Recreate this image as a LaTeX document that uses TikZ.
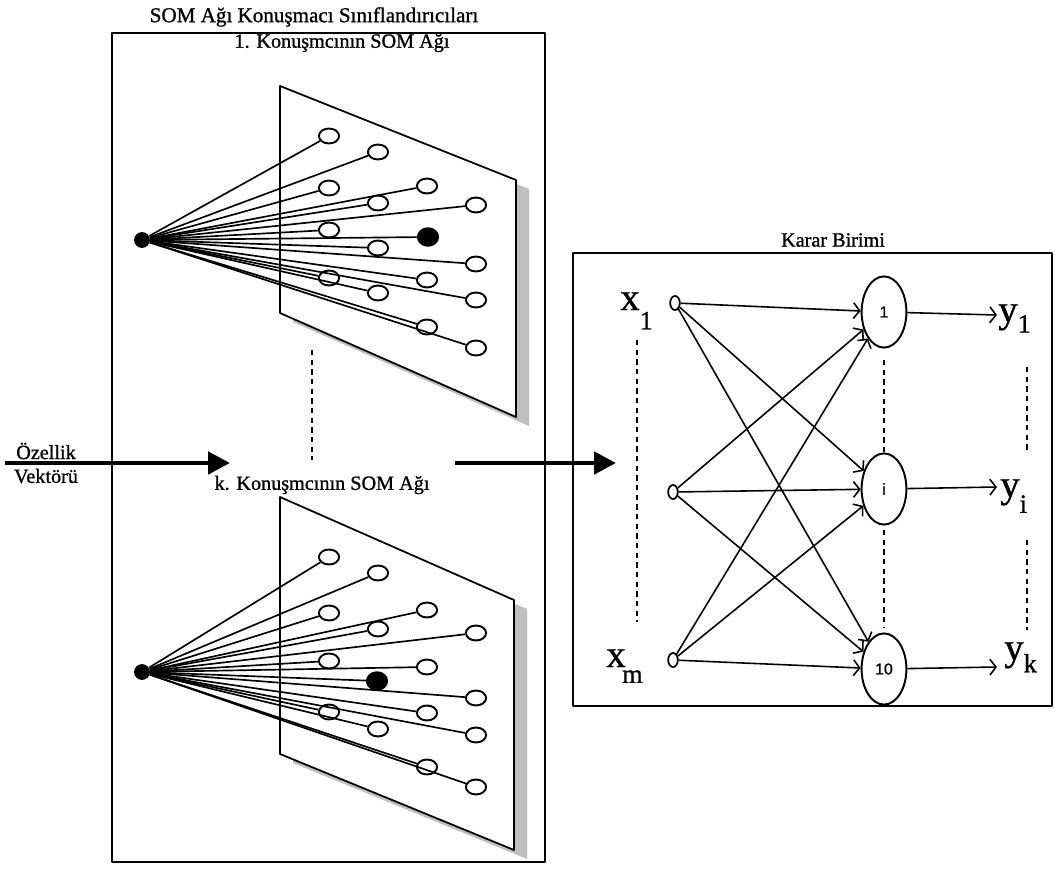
\documentclass[tikz,border=0pt]{standalone}
\usepackage{fontspec}
\setmainfont{Liberation Serif}[FakeBold=1]
\newfontfamily\numfont{Liberation Sans}[FakeBold=1]
\usetikzlibrary{arrows.meta,positioning,shapes.geometric}

\newcommand\lowsub[2][8pt]{\raisebox{-#1}{\fontsize{15}{15}\selectfont #2}}

\begin{document}
\begin{tikzpicture}[
    x=0.02cm, y=-0.02cm,
    line join=round,
    frame/.style={draw, line width=1pt},
    panel/.style={draw, fill=white, line width=1pt},
    panelshadow/.style={fill=black!25},
    unit/.style={ellipse, draw, fill=white, line width=1.1pt, inner sep=0pt,
                 minimum width=11.5pt, minimum height=8.5pt},
    winner/.style={unit, fill=black, minimum height=10pt},
    src/.style={circle, fill=black, inner sep=0pt, minimum size=9pt},
    link/.style={line width=0.95pt},
    lbl/.style={font=\fontsize{11.5}{13}\selectfont, inner sep=0pt},
    var/.style={font=\fontsize{22}{22}\selectfont, inner sep=0pt, anchor=base west},
    bigarr/.style={line width=2.8pt, -{Triangle[length=12.5pt,width=12.5pt]}},
    inp/.style={ellipse, draw, fill=white, line width=1pt, inner sep=0pt,
                minimum width=5.5pt, minimum height=8pt},
    neuron/.style={ellipse, draw, fill=white, line width=1.1pt, inner sep=0pt,
                   minimum width=25.5pt, minimum height=40.5pt,
                   font=\numfont\fontsize{9}{9}\selectfont},
    arr/.style={line width=0.9pt, -{Straight Barb[length=3.5pt,width=9pt]}},
    dots/.style={dash pattern=on 3pt off 2.5pt, line width=0.9pt}
  ]
  \useasboundingbox (0,0) rectangle (1055,875);

  % SOM classifiers
  \draw[frame] (112,33) rectangle (545,862);
  \node (title) [lbl, font=\fontsize{12}{14}\selectfont] at (314,17)
        {SOM Ağı Konuşmacı Sınıflandırıcıları};

  \fill[panelshadow] (293,95) -- (529,189) -- (529,426) -- (293,322) -- cycle;
  \draw[panel] (280,86) -- (516,180) -- (516,417) -- (280,313) -- cycle;
  \node (som1) [lbl] at (342,43) {1. Konuşmcının SOM Ağı};

  \fill[panelshadow] (293,506) -- (527,609) -- (527,859) -- (293,763) -- cycle;
  \draw[panel] (280,497) -- (514,600) -- (514,850) -- (280,754) -- cycle;
  \node (somk) [lbl] at (322,485) {k. Konuşmcının SOM Ağı};

  \draw[dots] (312,350) -- (312,460);

  \node (src1) [src] at (142,240) {};
  \foreach \n/\x/\y in {1/329/136, 2/378/152, 3/329/188, 4/427/186, 5/378/203,
                        6/476/205, 7/329/230, 9/378/248, 10/476/264, 11/427/280,
                        12/329/278, 13/378/293, 14/476/300, 15/427/327, 16/476/348}
    \node (a\n) [unit] at (\x,\y) {};
  \node (a8) [winner] at (428,237) {};
  \foreach \n in {1,...,16}
    \draw[link] (src1) -- (a\n);

  \node (srck) [src] at (142,672) {};
  \foreach \n/\x/\y in {1/329/557, 2/378/573, 3/329/613, 4/427/610, 5/378/629,
                        6/476/633, 7/329/661, 8/427/667, 10/476/698, 11/329/712,
                        12/427/713, 13/378/729, 14/476/735, 15/427/767, 16/476/787}
    \node (b\n) [unit] at (\x,\y) {};
  \node (b9) [winner] at (377,681) {};
  \foreach \n in {1,...,16}
    \draw[link] (srck) -- (b\n);

  % feature vector in, decisions out
  \node (feat1) [lbl] at (46,451) {Özellik};
  \node (feat2) [lbl] at (46,476) {Vektörü};
  \coordinate (vin)  at (5,463);
  \coordinate (vout) at (230,463);
  \draw[bigarr] (vin) -- (vout);
  \coordinate (sout) at (455,463);
  \coordinate (dec)  at (616,463);
  \draw[bigarr] (sout) -- (dec);

  % decision unit
  \draw[frame] (573,253) rectangle (1052,706);
  \node (karar) [lbl] at (833,240) {Karar Birimi};

  \node (x1) [inp] at (675,303) {};
  \node (xi) [inp] at (673,492) {};
  \node (xm) [inp] at (673,660) {};
  \node (lx1) [var] at (620,310) {x\lowsub[11pt]{1}};
  \node (lxm) [var] at (606,667) {x\kern-2pt\lowsub[9pt]{m}};

  \node (n1)  [neuron] at (884,312) {1};
  \node (ni)  [neuron] at (884,489) {i};
  \node (n10) [neuron] at (884,669) {10};

  \foreach \s in {x1,xi,xm}
    \foreach \t in {n1,ni,n10}
      \draw[arr] (\s) -- (\t);

  \coordinate (o1)  at (997,315);
  \coordinate (oi)  at (997,487);
  \coordinate (o10) at (997,667);
  \draw[arr] (n1)  -- (o1);
  \draw[arr] (ni)  -- (oi);
  \draw[arr] (n10) -- (o10);
  \node (ly1) [var] at (998,322) {y\lowsub[6pt]{1}};
  \node (lyi) [var] at (1000,497) {y\lowsub[9pt]{i}};
  \node (lyk) [var] at (1004,660) {y\lowsub[7pt]{k}};

  \draw[dots] (637,340) -- (637,622);
  \draw[dots] (884,360) -- (884,453);
  \draw[dots] (884,530) -- (884,628);
  \draw[dots] (1027,367) -- (1027,452);
  \draw[dots] (1027,540) -- (1027,630);
\end{tikzpicture}
\end{document}
